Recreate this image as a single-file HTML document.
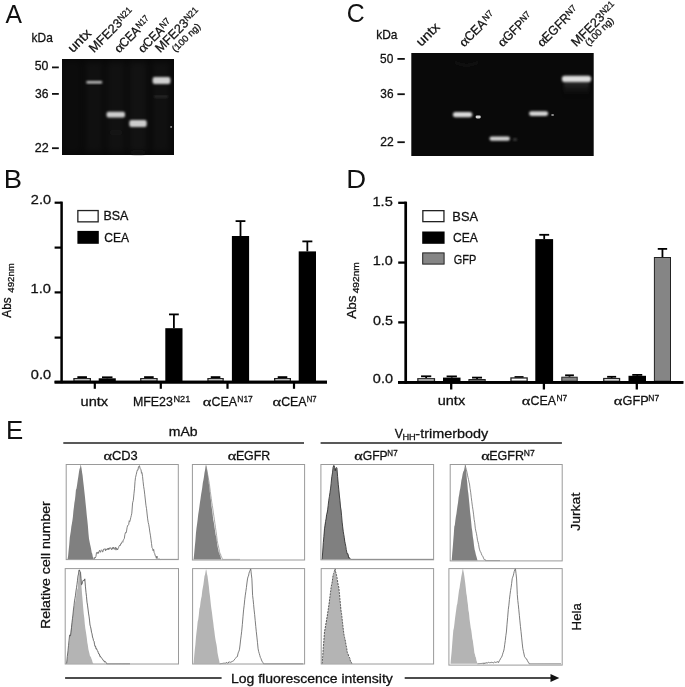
<!DOCTYPE html>
<html><head><meta charset="utf-8"><style>
html,body{margin:0;padding:0;background:#fff;overflow:hidden;width:685px;height:687px;}
svg{display:block;filter:blur(0.3px);}
text{stroke:#111;stroke-width:0.28px;}
text.n{stroke:none;}
</style></head><body>
<svg width="685" height="687" viewBox="0 0 685 687">
<defs>
<filter id="b1" x="-50%" y="-50%" width="200%" height="200%"><feGaussianBlur stdDeviation="0.9"/></filter>
<filter id="b2" x="-50%" y="-50%" width="200%" height="200%"><feGaussianBlur stdDeviation="1.6"/></filter>
<filter id="b3" x="-50%" y="-50%" width="200%" height="200%"><feGaussianBlur stdDeviation="3"/></filter>
<filter id="bt" x="-10%" y="-10%" width="120%" height="120%"><feGaussianBlur stdDeviation="0.25"/></filter>
<filter id="bt2" x="-50%" y="-50%" width="200%" height="200%"><feGaussianBlur stdDeviation="0.6"/></filter>
<linearGradient id="smear" x1="0" y1="0" x2="0" y2="1"><stop offset="0" stop-color="#5a5a5a"/><stop offset="1" stop-color="#111" stop-opacity="0"/></linearGradient>
</defs>
<rect width="685" height="687" fill="#fff"/>
<text transform="translate(5.45,22.60) scale(0.989,1)" font-family='"Liberation Sans", sans-serif' font-size="25.00" fill="#111" class="n">A</text>
<text transform="translate(346.74,21.50) scale(0.992,1)" font-family='"Liberation Sans", sans-serif' font-size="25.00" fill="#111" class="n">C</text>
<text transform="translate(3.85,188.00) scale(1.097,1)" font-family='"Liberation Sans", sans-serif' font-size="25.00" fill="#111" class="n">B</text>
<text transform="translate(346.34,188.00) scale(1.101,1)" font-family='"Liberation Sans", sans-serif' font-size="25.00" fill="#111" class="n">D</text>
<text transform="translate(6.08,438.50) scale(1.033,1)" font-family='"Liberation Sans", sans-serif' font-size="25.00" fill="#111" class="n">E</text>
<text transform="translate(31.60,41.60) scale(0.994,1)" font-family='"Liberation Sans", sans-serif' font-size="12.00" fill="#111" >kDa</text>
<rect x="62" y="59" width="112" height="96" fill="#080808"/>
<rect x="63" y="62" width="18" height="90" fill="#fff" opacity="0.015" filter="url(#b3)"/>
<rect x="85" y="62" width="18" height="90" fill="#fff" opacity="0.03" filter="url(#b3)"/>
<rect x="107" y="62" width="18" height="90" fill="#fff" opacity="0.035" filter="url(#b3)"/>
<rect x="129" y="62" width="18" height="90" fill="#fff" opacity="0.04" filter="url(#b3)"/>
<rect x="152" y="62" width="18" height="90" fill="#fff" opacity="0.03" filter="url(#b3)"/>
<rect x="86.3" y="80.9" width="15.9" height="2.6" rx="1.0" fill="#c8c8c8" opacity="1" filter="url(#b1)"/>
<rect x="106.6" y="111.8" width="18.4" height="5.8" rx="1.8" fill="#cdcdcd" opacity="1" filter="url(#b1)"/>
<rect x="129.3" y="120.1" width="17.4" height="6.8" rx="2.0" fill="#cdcdcd" opacity="1" filter="url(#b1)"/>
<rect x="152.6" y="76.9" width="17.8" height="7.0" rx="2.0" fill="#d0d0d0" opacity="1" filter="url(#b1)"/>
<rect x="154.0" y="95.8" width="14.0" height="1.6" rx="0.8" fill="#333333" opacity="1" filter="url(#b1)"/>
<rect x="110.0" y="131.5" width="12.0" height="2.0" rx="1.0" fill="#181818" opacity="1" filter="url(#b2)"/>
<rect x="132.0" y="151.0" width="12.0" height="3.0" rx="1.5" fill="#181818" opacity="1" filter="url(#b2)"/>
<rect x="170.4" y="126.0" width="1.4" height="1.8" rx="0.9" fill="#d0d0d0" opacity="1" filter="url(#bt2)"/>
<text transform="translate(34.71,69.90) scale(1.024,1)" font-family='"Liberation Sans", sans-serif' font-size="12.00" fill="#111" >50</text>
<text transform="translate(35.04,97.90) scale(1.011,1)" font-family='"Liberation Sans", sans-serif' font-size="12.00" fill="#111" >36</text>
<text transform="translate(34.77,151.90) scale(1.046,1)" font-family='"Liberation Sans", sans-serif' font-size="12.00" fill="#111" >22</text>
<rect x="52" y="66.5" width="6.8" height="1.8" fill="#111"/>
<rect x="52" y="93.0" width="6.8" height="1.8" fill="#111"/>
<rect x="52" y="147.3" width="6.8" height="1.8" fill="#111"/>
<text transform="translate(376.20,39.20) scale(0.994,1)" font-family='"Liberation Sans", sans-serif' font-size="12.00" fill="#111" >kDa</text>
<rect x="411.3" y="53" width="182.4" height="103" fill="#090909"/>
<path d="M455,62.3 Q466.5,68.5 478,62.3" fill="none" stroke="#1e1e1e" stroke-width="1.2" filter="url(#b1)"/>
<rect x="452.9" y="112.0" width="19.4" height="5.2" rx="2.6" fill="#dadada" opacity="1" filter="url(#b1)"/>
<rect x="475.6" y="115.6" width="5.2" height="2.8" rx="1.4" fill="#d4d4d4" opacity="1" filter="url(#bt2)"/>
<rect x="489.5" y="136.4" width="20.5" height="4.4" rx="2.2" fill="#d4d4d4" opacity="1" filter="url(#b1)"/>
<rect x="512.8" y="138.5" width="4.4" height="2.0" rx="1.0" fill="#4a4a4a" opacity="1" filter="url(#b1)"/>
<rect x="529.0" y="111.2" width="19.2" height="4.8" rx="2.4" fill="#d6d6d6" opacity="1" filter="url(#b1)"/>
<rect x="551.2" y="114.0" width="2.8" height="2.0" rx="1.0" fill="#8a8a8a" opacity="1" filter="url(#bt2)"/>
<rect x="564" y="80" width="25" height="17" fill="url(#smear)" opacity="0.55" filter="url(#b2)"/>
<rect x="561.8" y="75.8" width="29.4" height="6.2" rx="3.1" fill="#dcdcdc" opacity="1" filter="url(#b1)"/>
<text transform="translate(380.02,63.10) scale(0.992,1)" font-family='"Liberation Sans", sans-serif' font-size="12.00" fill="#111" >50</text>
<text transform="translate(380.35,98.40) scale(0.987,1)" font-family='"Liberation Sans", sans-serif' font-size="12.00" fill="#111" >36</text>
<text transform="translate(380.19,146.40) scale(1.005,1)" font-family='"Liberation Sans", sans-serif' font-size="12.00" fill="#111" >22</text>
<rect x="397.4" y="58.0" width="7.4" height="1.8" fill="#111"/>
<rect x="397.4" y="93.3" width="7.4" height="1.8" fill="#111"/>
<rect x="397.4" y="141.3" width="7.4" height="1.8" fill="#111"/>
<g transform="translate(73.60,52.60) rotate(-45)" fill="#111"><text transform="translate(-0.93,0.00) scale(1.086,1)" font-family='"Liberation Sans", sans-serif' font-size="13.20">untx</text></g>
<g transform="translate(94.80,52.40) rotate(-45)" fill="#111"><text transform="translate(-1.05,0.00) scale(0.996,1)" font-family='"Liberation Sans", sans-serif' font-size="12.80">MFE23</text><text transform="translate(40.18,-3.00) scale(0.978,1)" font-family='"Liberation Sans", sans-serif' font-size="9.00">N21</text></g>
<g transform="translate(119.30,53.20) rotate(-45)" fill="#111"><text transform="translate(-0.58,0.00) scale(1.119,1)" font-family='"Liberation Serif", serif' font-size="13.50">α</text><text transform="translate(7.01,0.00) scale(0.905,1)" font-family='"Liberation Sans", sans-serif' font-size="12.80">CEA</text><text transform="translate(31.15,-3.00) scale(0.881,1)" font-family='"Liberation Sans", sans-serif' font-size="9.00">N17</text></g>
<g transform="translate(143.10,53.20) rotate(-45)" fill="#111"><text transform="translate(-0.58,0.00) scale(1.119,1)" font-family='"Liberation Serif", serif' font-size="13.50">α</text><text transform="translate(7.01,0.00) scale(0.905,1)" font-family='"Liberation Sans", sans-serif' font-size="12.80">CEA</text><text transform="translate(31.12,-3.00) scale(0.921,1)" font-family='"Liberation Sans", sans-serif' font-size="9.00">N7</text></g>
<g transform="translate(161.00,52.40) rotate(-45)" fill="#111"><text transform="translate(-1.05,0.00) scale(0.996,1)" font-family='"Liberation Sans", sans-serif' font-size="12.80">MFE23</text><text transform="translate(40.18,-3.00) scale(0.978,1)" font-family='"Liberation Sans", sans-serif' font-size="9.00">N21</text></g>
<g transform="translate(176.00,52.20) rotate(-45)" fill="#111"><text transform="translate(-0.60,0.00) scale(1.057,1)" font-family='"Liberation Sans", sans-serif' font-size="9.20">(100 ng)</text></g>
<g transform="translate(422.00,46.40) rotate(-45)" fill="#111"><text transform="translate(-0.93,0.00) scale(1.086,1)" font-family='"Liberation Sans", sans-serif' font-size="13.20">untx</text></g>
<g transform="translate(464.50,47.20) rotate(-45)" fill="#111"><text transform="translate(-0.58,0.00) scale(1.119,1)" font-family='"Liberation Serif", serif' font-size="13.50">α</text><text transform="translate(7.18,0.00) scale(0.955,1)" font-family='"Liberation Sans", sans-serif' font-size="12.80">CEA</text><text transform="translate(32.98,-3.00) scale(0.970,1)" font-family='"Liberation Sans", sans-serif' font-size="9.00">N7</text></g>
<g transform="translate(503.00,47.20) rotate(-45)" fill="#111"><text transform="translate(-0.58,0.00) scale(1.119,1)" font-family='"Liberation Serif", serif' font-size="13.50">α</text><text transform="translate(7.21,0.00) scale(0.920,1)" font-family='"Liberation Sans", sans-serif' font-size="12.80">GFP</text><text transform="translate(31.48,-3.00) scale(0.970,1)" font-family='"Liberation Sans", sans-serif' font-size="9.00">N7</text></g>
<g transform="translate(542.50,47.20) rotate(-45)" fill="#111"><text transform="translate(-0.58,0.00) scale(1.119,1)" font-family='"Liberation Serif", serif' font-size="13.50">α</text><text transform="translate(6.81,0.00) scale(0.944,1)" font-family='"Liberation Sans", sans-serif' font-size="12.80">EGFR</text><text transform="translate(40.48,-3.00) scale(0.970,1)" font-family='"Liberation Sans", sans-serif' font-size="9.00">N7</text></g>
<g transform="translate(577.00,46.40) rotate(-45)" fill="#111"><text transform="translate(-1.05,0.00) scale(0.996,1)" font-family='"Liberation Sans", sans-serif' font-size="12.80">MFE23</text><text transform="translate(40.18,-3.00) scale(0.978,1)" font-family='"Liberation Sans", sans-serif' font-size="9.00">N21</text></g>
<g transform="translate(589.20,46.00) rotate(-45)" fill="#111"><text transform="translate(-0.60,0.00) scale(1.057,1)" font-family='"Liberation Sans", sans-serif' font-size="9.20">(100 ng)</text></g>
<line x1="61.60" y1="201.60" x2="61.60" y2="383.20" stroke="#000" stroke-width="2.5"/>
<line x1="54.60" y1="202.70" x2="61.60" y2="202.70" stroke="#000" stroke-width="2.2"/>
<line x1="54.60" y1="247.60" x2="61.60" y2="247.60" stroke="#000" stroke-width="2.2"/>
<line x1="54.60" y1="292.40" x2="61.60" y2="292.40" stroke="#000" stroke-width="2.2"/>
<line x1="54.60" y1="337.60" x2="61.60" y2="337.60" stroke="#000" stroke-width="2.2"/>
<line x1="54.60" y1="382.10" x2="327.00" y2="382.10" stroke="#000" stroke-width="2.6"/>
<line x1="94.80" y1="382.10" x2="94.80" y2="388.80" stroke="#000" stroke-width="2.2"/>
<line x1="160.80" y1="382.10" x2="160.80" y2="388.80" stroke="#000" stroke-width="2.2"/>
<line x1="227.50" y1="382.10" x2="227.50" y2="388.80" stroke="#000" stroke-width="2.2"/>
<line x1="294.00" y1="382.10" x2="294.00" y2="388.80" stroke="#000" stroke-width="2.2"/>
<text transform="translate(30.87,203.80) scale(1.118,1)" font-family='"Liberation Sans", sans-serif' font-size="13.00" fill="#111" >2.0</text>
<text transform="translate(30.58,292.50) scale(1.128,1)" font-family='"Liberation Sans", sans-serif' font-size="13.00" fill="#111" >1.0</text>
<text transform="translate(30.83,378.70) scale(1.120,1)" font-family='"Liberation Sans", sans-serif' font-size="13.00" fill="#111" >0.0</text>
<rect x="77.85" y="210.55" width="20.30" height="11.30" fill="#fff" stroke="#222" stroke-width="1.3"/>
<rect x="77.40" y="230.90" width="21.40" height="12.90" fill="#000"/>
<text transform="translate(103.48,219.50) scale(1.039,1)" font-family='"Liberation Sans", sans-serif' font-size="12.00" fill="#111" >BSA</text>
<text transform="translate(104.19,241.60) scale(1.007,1)" font-family='"Liberation Sans", sans-serif' font-size="12.00" fill="#111" >CEA</text>
<line x1="82.15" y1="377.10" x2="82.15" y2="378.00" stroke="#000" stroke-width="1.8"/>
<line x1="77.35" y1="377.10" x2="86.95" y2="377.10" stroke="#000" stroke-width="1.8"/>
<rect x="73.95" y="378.65" width="16.40" height="2.35" fill="#fff" stroke="#222" stroke-width="1.3"/>
<line x1="107.25" y1="377.30" x2="107.25" y2="378.30" stroke="#000" stroke-width="1.8"/>
<line x1="102.00" y1="377.30" x2="112.50" y2="377.30" stroke="#000" stroke-width="1.8"/>
<rect x="98.70" y="378.30" width="17.10" height="2.70" fill="#000"/>
<line x1="148.90" y1="377.10" x2="148.90" y2="378.00" stroke="#000" stroke-width="1.8"/>
<line x1="144.10" y1="377.10" x2="153.70" y2="377.10" stroke="#000" stroke-width="1.8"/>
<rect x="140.75" y="378.65" width="16.30" height="2.35" fill="#fff" stroke="#222" stroke-width="1.3"/>
<line x1="173.90" y1="314.40" x2="173.90" y2="328.20" stroke="#000" stroke-width="1.8"/>
<line x1="169.00" y1="314.40" x2="178.80" y2="314.40" stroke="#000" stroke-width="1.8"/>
<rect x="165.30" y="328.20" width="17.20" height="52.80" fill="#000"/>
<line x1="215.55" y1="377.10" x2="215.55" y2="378.00" stroke="#000" stroke-width="1.8"/>
<line x1="210.75" y1="377.10" x2="220.35" y2="377.10" stroke="#000" stroke-width="1.8"/>
<rect x="207.95" y="378.65" width="15.20" height="2.35" fill="#fff" stroke="#222" stroke-width="1.3"/>
<line x1="240.50" y1="221.10" x2="240.50" y2="236.00" stroke="#000" stroke-width="1.8"/>
<line x1="235.60" y1="221.10" x2="245.40" y2="221.10" stroke="#000" stroke-width="1.8"/>
<rect x="231.90" y="236.00" width="17.20" height="145.00" fill="#000"/>
<line x1="282.50" y1="377.10" x2="282.50" y2="378.00" stroke="#000" stroke-width="1.8"/>
<line x1="277.70" y1="377.10" x2="287.30" y2="377.10" stroke="#000" stroke-width="1.8"/>
<rect x="274.65" y="378.65" width="15.70" height="2.35" fill="#fff" stroke="#222" stroke-width="1.3"/>
<line x1="307.35" y1="241.40" x2="307.35" y2="251.40" stroke="#000" stroke-width="1.8"/>
<line x1="302.35" y1="241.40" x2="312.35" y2="241.40" stroke="#000" stroke-width="1.8"/>
<rect x="298.70" y="251.40" width="17.30" height="129.60" fill="#000"/>
<line x1="54.60" y1="382.10" x2="327.00" y2="382.10" stroke="#000" stroke-width="2.6"/>
<text transform="translate(80.55,405.80) scale(1.123,1)" font-family='"Liberation Sans", sans-serif' font-size="13.00" fill="#111" >untx</text>
<text transform="translate(132.88,405.80) scale(0.956,1)" font-family='"Liberation Sans", sans-serif' font-size="13.00" fill="#111" >MFE23</text>
<text transform="translate(173.44,401.90) scale(1.024,1)" font-family='"Liberation Sans", sans-serif' font-size="9.00" fill="#111" >N21</text>
<text transform="translate(202.78,405.80) scale(1.262,1)" font-family='"Liberation Serif", serif' font-size="13.00" fill="#111" >α</text>
<text transform="translate(211.57,405.80) scale(0.952,1)" font-family='"Liberation Sans", sans-serif' font-size="13.00" fill="#111" >CEA</text>
<text transform="translate(237.31,401.90) scale(0.940,1)" font-family='"Liberation Sans", sans-serif' font-size="9.00" fill="#111" >N17</text>
<text transform="translate(272.38,405.80) scale(1.262,1)" font-family='"Liberation Serif", serif' font-size="13.00" fill="#111" >α</text>
<text transform="translate(281.17,405.80) scale(0.952,1)" font-family='"Liberation Sans", sans-serif' font-size="13.00" fill="#111" >CEA</text>
<text transform="translate(306.77,401.90) scale(0.853,1)" font-family='"Liberation Sans", sans-serif' font-size="9.00" fill="#111" >N7</text>
<text transform="translate(11.00,317.70) rotate(-90) scale(0.908,1) translate(-0.03,0)" font-family='"Liberation Sans", sans-serif' font-size="13.00" fill="#111">Abs</text>
<text transform="translate(14.00,292.40) rotate(-90) scale(1.025,1) translate(-0.22,0)" font-family='"Liberation Sans", sans-serif' font-size="9.40" fill="#111">492nm</text>
<line x1="405.70" y1="201.60" x2="405.70" y2="383.70" stroke="#000" stroke-width="2.7"/>
<line x1="398.20" y1="202.80" x2="405.70" y2="202.80" stroke="#000" stroke-width="2.3"/>
<line x1="398.20" y1="262.60" x2="405.70" y2="262.60" stroke="#000" stroke-width="2.3"/>
<line x1="398.20" y1="322.40" x2="405.70" y2="322.40" stroke="#000" stroke-width="2.3"/>
<line x1="398.00" y1="382.40" x2="683.30" y2="382.40" stroke="#000" stroke-width="2.7"/>
<line x1="451.20" y1="382.40" x2="451.20" y2="389.50" stroke="#000" stroke-width="2.3"/>
<line x1="543.90" y1="382.40" x2="543.90" y2="389.50" stroke="#000" stroke-width="2.3"/>
<line x1="636.80" y1="382.40" x2="636.80" y2="389.50" stroke="#000" stroke-width="2.3"/>
<text transform="translate(372.49,205.90) scale(1.125,1)" font-family='"Liberation Sans", sans-serif' font-size="13.00" fill="#111" >1.5</text>
<text transform="translate(372.70,265.30) scale(1.110,1)" font-family='"Liberation Sans", sans-serif' font-size="13.00" fill="#111" >1.0</text>
<text transform="translate(372.94,325.10) scale(1.105,1)" font-family='"Liberation Sans", sans-serif' font-size="13.00" fill="#111" >0.5</text>
<text transform="translate(372.83,383.10) scale(1.114,1)" font-family='"Liberation Sans", sans-serif' font-size="13.00" fill="#111" >0.0</text>
<rect x="422.85" y="210.65" width="21.10" height="11.00" fill="#fff" stroke="#222" stroke-width="1.3"/>
<rect x="422.20" y="231.50" width="22.40" height="12.30" fill="#000"/>
<rect x="422.70" y="252.90" width="21.40" height="11.20" fill="#858585" stroke="#222" stroke-width="1.0"/>
<text transform="translate(452.35,221.00) scale(1.027,1)" font-family='"Liberation Sans", sans-serif' font-size="12.50" fill="#111" >BSA</text>
<text transform="translate(452.99,242.40) scale(0.966,1)" font-family='"Liberation Sans", sans-serif' font-size="12.50" fill="#111" >CEA</text>
<text transform="translate(453.85,263.80) scale(0.877,1)" font-family='"Liberation Sans", sans-serif' font-size="12.50" fill="#111" >GFP</text>
<line x1="426.15" y1="376.30" x2="426.15" y2="378.10" stroke="#000" stroke-width="1.8"/>
<line x1="421.05" y1="376.30" x2="431.25" y2="376.30" stroke="#000" stroke-width="1.8"/>
<rect x="417.85" y="378.75" width="16.60" height="2.45" fill="#fff" stroke="#222" stroke-width="1.3"/>
<line x1="451.75" y1="376.40" x2="451.75" y2="377.60" stroke="#000" stroke-width="1.8"/>
<line x1="446.60" y1="376.40" x2="456.90" y2="376.40" stroke="#000" stroke-width="1.8"/>
<rect x="443.00" y="377.60" width="17.50" height="3.60" fill="#000"/>
<line x1="477.05" y1="377.60" x2="477.05" y2="379.00" stroke="#000" stroke-width="1.8"/>
<line x1="472.05" y1="377.60" x2="482.05" y2="377.60" stroke="#000" stroke-width="1.8"/>
<rect x="468.90" y="379.50" width="16.30" height="1.70" fill="#858585" stroke="#222" stroke-width="1.0"/>
<line x1="519.05" y1="377.00" x2="519.05" y2="377.30" stroke="#000" stroke-width="1.8"/>
<line x1="514.55" y1="377.00" x2="523.55" y2="377.00" stroke="#000" stroke-width="1.8"/>
<rect x="510.95" y="377.95" width="16.20" height="3.25" fill="#fff" stroke="#222" stroke-width="1.3"/>
<line x1="544.20" y1="234.80" x2="544.20" y2="239.10" stroke="#000" stroke-width="1.8"/>
<line x1="539.25" y1="234.80" x2="549.15" y2="234.80" stroke="#000" stroke-width="1.8"/>
<rect x="535.30" y="239.10" width="17.80" height="142.10" fill="#000"/>
<line x1="569.50" y1="375.30" x2="569.50" y2="376.70" stroke="#000" stroke-width="1.8"/>
<line x1="565.10" y1="375.30" x2="573.90" y2="375.30" stroke="#000" stroke-width="1.8"/>
<rect x="561.80" y="377.20" width="15.40" height="4.00" fill="#858585" stroke="#222" stroke-width="1.0"/>
<line x1="611.65" y1="376.80" x2="611.65" y2="377.90" stroke="#000" stroke-width="1.8"/>
<line x1="607.15" y1="376.80" x2="616.15" y2="376.80" stroke="#000" stroke-width="1.8"/>
<rect x="603.75" y="378.55" width="15.80" height="2.65" fill="#fff" stroke="#222" stroke-width="1.3"/>
<line x1="637.25" y1="374.90" x2="637.25" y2="375.80" stroke="#000" stroke-width="1.8"/>
<line x1="632.25" y1="374.90" x2="642.25" y2="374.90" stroke="#000" stroke-width="1.8"/>
<rect x="628.50" y="375.80" width="17.50" height="5.40" fill="#000"/>
<line x1="662.45" y1="248.90" x2="662.45" y2="257.00" stroke="#000" stroke-width="1.8"/>
<line x1="657.75" y1="248.90" x2="667.15" y2="248.90" stroke="#000" stroke-width="1.8"/>
<rect x="654.40" y="257.50" width="16.10" height="123.70" fill="#858585" stroke="#222" stroke-width="1.0"/>
<line x1="398.00" y1="382.40" x2="683.30" y2="382.40" stroke="#000" stroke-width="2.7"/>
<text transform="translate(437.76,405.10) scale(1.115,1)" font-family='"Liberation Sans", sans-serif' font-size="13.00" fill="#111" >untx</text>
<text transform="translate(521.78,405.10) scale(1.262,1)" font-family='"Liberation Serif", serif' font-size="13.00" fill="#111" >α</text>
<text transform="translate(530.57,405.10) scale(0.952,1)" font-family='"Liberation Sans", sans-serif' font-size="13.00" fill="#111" >CEA</text>
<text transform="translate(556.51,401.20) scale(0.931,1)" font-family='"Liberation Sans", sans-serif' font-size="9.00" fill="#111" >N7</text>
<text transform="translate(613.78,405.10) scale(1.262,1)" font-family='"Liberation Serif", serif' font-size="13.00" fill="#111" >α</text>
<text transform="translate(622.56,405.10) scale(0.977,1)" font-family='"Liberation Sans", sans-serif' font-size="13.00" fill="#111" >GFP</text>
<text transform="translate(648.31,401.20) scale(0.940,1)" font-family='"Liberation Sans", sans-serif' font-size="9.00" fill="#111" >N7</text>
<text transform="translate(356.30,318.70) rotate(-90) scale(1.036,1) translate(-0.03,0)" font-family='"Liberation Sans", sans-serif' font-size="13.00" fill="#111">Abs</text>
<text transform="translate(359.20,293.10) rotate(-90) scale(1.086,1) translate(-0.22,0)" font-family='"Liberation Sans", sans-serif' font-size="9.40" fill="#111">492nm</text>
<text transform="translate(168.87,436.10) scale(1.168,1)" font-family='"Liberation Sans", sans-serif' font-size="12.00" fill="#111" >mAb</text>
<line x1="63.30" y1="442.90" x2="304.00" y2="442.90" stroke="#222" stroke-width="1.5"/>
<line x1="320.60" y1="442.90" x2="561.90" y2="442.90" stroke="#222" stroke-width="1.5"/>
<text transform="translate(394.85,437.50) scale(0.947,1)" font-family='"Liberation Sans", sans-serif' font-size="13.00" fill="#111" >V</text>
<text transform="translate(402.44,439.80) scale(1.084,1)" font-family='"Liberation Sans", sans-serif' font-size="8.50" fill="#111" >HH</text>
<text transform="translate(415.36,437.50) scale(1.110,1)" font-family='"Liberation Sans", sans-serif' font-size="13.00" fill="#111" >-trimerbody</text>
<text transform="translate(103.48,459.70) scale(1.295,1)" font-family='"Liberation Serif", serif' font-size="12.50" fill="#111" >α</text>
<text transform="translate(111.94,459.70) scale(1.033,1)" font-family='"Liberation Sans", sans-serif' font-size="12.50" fill="#111" >CD3</text>
<text transform="translate(227.78,459.70) scale(1.295,1)" font-family='"Liberation Serif", serif' font-size="12.50" fill="#111" >α</text>
<text transform="translate(235.88,459.70) scale(0.990,1)" font-family='"Liberation Sans", sans-serif' font-size="12.50" fill="#111" >EGFR</text>
<text transform="translate(354.18,459.70) scale(1.295,1)" font-family='"Liberation Serif", serif' font-size="12.50" fill="#111" >α</text>
<text transform="translate(362.69,459.70) scale(0.971,1)" font-family='"Liberation Sans", sans-serif' font-size="12.50" fill="#111" >GFP</text>
<text transform="translate(387.34,455.80) scale(0.892,1)" font-family='"Liberation Sans", sans-serif' font-size="9.00" fill="#111" >N7</text>
<text transform="translate(481.18,459.70) scale(1.295,1)" font-family='"Liberation Serif", serif' font-size="12.50" fill="#111" >α</text>
<text transform="translate(489.27,459.70) scale(1.002,1)" font-family='"Liberation Sans", sans-serif' font-size="12.50" fill="#111" >EGFR</text>
<text transform="translate(523.80,455.80) scale(0.950,1)" font-family='"Liberation Sans", sans-serif' font-size="9.00" fill="#111" >N7</text>
<text transform="translate(50.20,627.90) rotate(-90) scale(1.103,1) translate(-1.05,0)" font-family='"Liberation Sans", sans-serif' font-size="12.80" fill="#111">Relative cell number</text>
<text transform="translate(580.00,530.60) rotate(-90) scale(1.094,1) translate(-0.20,0)" font-family='"Liberation Sans", sans-serif' font-size="12.80" fill="#111">Jurkat</text>
<text transform="translate(581.30,629.30) rotate(-90) scale(1.033,1) translate(-1.05,0)" font-family='"Liberation Sans", sans-serif' font-size="12.80" fill="#111">Hela</text>
<line x1="65.10" y1="678.00" x2="221.60" y2="678.00" stroke="#111" stroke-width="1.6"/>
<line x1="404.70" y1="678.00" x2="552.00" y2="678.00" stroke="#111" stroke-width="1.6"/>
<path d="M550.5,674 L559.3,678 L550.5,682 Z" fill="#111"/>
<text transform="translate(230.95,682.60) scale(1.121,1)" font-family='"Liberation Sans", sans-serif' font-size="12.50" fill="#111" >Log fluorescence intensity</text>
<polygon points="67.50,559.40 68.10,555.90 68.67,550.03 69.23,544.73 69.80,537.62 70.32,534.22 70.84,530.89 71.36,526.51 71.88,523.73 72.40,520.49 72.90,516.69 73.40,510.99 73.90,507.30 74.40,502.67 74.90,500.10 75.40,495.68 75.90,490.09 76.50,488.54 77.10,484.87 77.70,480.56 78.30,476.85 78.90,472.55 79.50,468.93 80.10,467.66 80.70,464.23 81.50,468.32 82.05,472.23 82.60,475.57 83.20,481.35 83.80,486.14 84.40,491.85 84.98,496.96 85.56,503.05 86.14,508.56 86.72,514.74 87.30,520.11 87.87,525.55 88.43,532.96 89.00,538.79 89.54,541.51 90.08,544.28 90.62,546.47 91.16,549.35 91.70,552.54 92.25,553.65 92.80,556.79 93.35,557.58 93.90,559.40" fill="#808080"/>
<polyline points="93.90,559.40 94.41,559.40 94.93,557.00 95.44,557.69 95.96,556.33 96.47,552.76 96.99,552.36 97.50,553.43 98.00,551.96 98.50,553.35 99.00,551.45 99.50,550.33 100.00,551.86 100.50,552.16 101.00,550.48 101.50,549.79 102.00,550.38 102.50,552.13 103.00,551.36 103.50,549.29 104.00,549.53 104.50,548.95 105.00,548.68 105.50,550.77 106.00,548.79 106.50,549.81 107.00,549.35 107.50,548.45 108.00,549.95 108.50,548.03 109.00,549.44 109.50,547.74 110.00,548.53 110.50,547.78 111.00,547.83 111.50,549.81 112.00,549.18 112.50,547.56 113.00,549.18 113.50,547.03 114.00,547.74 114.50,549.27 115.00,548.79 115.50,547.32 116.00,550.15 116.50,547.97 117.00,548.26 117.50,549.96 118.00,548.79 118.53,547.76 119.05,546.17 119.58,545.29 120.11,545.84 120.64,543.89 121.16,544.04 121.69,542.42 122.22,541.74 122.75,542.33 123.27,539.98 123.80,539.32 124.35,538.39 124.90,534.52 125.45,532.62 126.00,533.08 126.55,530.99 127.10,527.47 127.65,525.48 128.20,525.32 128.71,524.46 129.23,520.78 129.74,521.58 130.26,519.92 130.77,517.62 131.29,515.62 131.80,513.21 132.60,502.82 133.30,500.49 134.00,493.22 134.50,488.81 135.00,481.67 135.50,477.57 136.20,474.69 136.90,471.58 137.42,469.91 137.94,470.22 138.46,466.95 138.98,466.11 139.50,465.78 140.00,468.26 140.50,469.14 141.00,469.74 141.50,473.25 142.00,472.71 142.55,476.52 143.10,481.66 143.65,486.56 144.20,489.78 144.78,494.79 145.36,500.03 145.94,505.30 146.52,508.63 147.10,513.99 147.65,518.85 148.20,522.39 148.75,524.70 149.30,528.07 149.85,532.13 150.40,535.17 150.95,539.23 151.50,543.55 152.04,547.68 152.57,548.50 153.11,550.74 153.65,549.36 154.19,552.66 154.73,553.65 155.26,555.84 155.80,556.06 156.35,558.45 156.90,556.03 157.45,557.79 158.00,558.71 158.55,559.40 159.10,559.40 159.65,559.05 160.20,559.40 160.71,559.40 161.22,559.40 161.73,559.40 162.23,559.40 162.74,559.40 163.25,559.40 163.76,559.40 164.27,559.40 164.78,559.40 165.29,559.40 165.79,559.40 166.30,559.40 166.81,559.40 167.32,559.40 167.83,559.40 168.34,559.40 168.85,559.40 169.35,559.40 169.86,559.40 170.37,559.40 170.88,559.40 171.39,559.40 171.90,559.40 172.41,559.40 172.91,559.40 173.42,559.40 173.93,559.40 174.44,559.40 174.95,559.40 175.46,559.40 175.97,559.40 176.47,559.40 176.98,559.40 177.49,559.40 178.00,559.40" fill="none" stroke="#6a6a6a" stroke-width="0.85"/>
<rect x="66.20" y="464.50" width="112.10" height="95.10" fill="none" stroke="#9a9a9a" stroke-width="1"/>
<polygon points="193.60,559.40 194.18,553.47 194.76,547.29 195.34,541.17 195.92,533.55 196.50,527.91 197.08,524.02 197.66,519.60 198.24,514.24 198.82,510.70 199.40,506.50 199.97,502.21 200.53,498.67 201.10,494.49 201.67,491.28 202.23,487.69 202.80,482.88 203.37,480.17 203.93,477.02 204.50,472.84 205.00,470.14 205.50,467.02 206.00,465.42 206.50,467.44 207.00,469.50 207.50,472.74 208.20,476.98 208.90,484.35 209.42,487.15 209.94,492.78 210.46,496.90 210.98,500.73 211.50,506.14 212.08,510.05 212.66,514.67 213.24,519.71 213.82,522.60 214.40,526.42 214.96,530.28 215.51,534.32 216.07,536.49 216.63,539.63 217.19,544.46 217.74,547.14 218.30,549.87 218.80,552.43 219.30,552.75 219.80,555.06 220.30,555.60 220.80,557.68 221.30,559.40" fill="#808080"/>
<polyline points="206.00,465.27 206.55,468.55 207.10,471.66 207.65,474.21 208.20,477.60 208.75,480.43 209.30,483.36 209.80,487.45 210.30,491.50 210.80,495.17 211.30,498.65 211.80,502.59 212.30,505.43 212.83,508.94 213.37,512.91 213.90,516.33 214.43,519.89 214.97,523.76 215.50,527.65 216.07,531.66 216.63,535.61 217.20,540.41 217.77,543.58 218.35,545.94 218.93,548.49 219.50,551.44 220.00,553.68 220.50,553.92 221.00,555.95 221.50,557.02 222.00,557.94 222.50,559.40 223.00,559.40 223.50,559.40 224.00,559.40 224.50,559.40 225.00,559.40 225.50,559.40 226.00,559.40 226.50,559.40 227.00,559.40 227.50,559.40 228.00,559.40 228.50,559.40 229.00,559.40 229.50,559.40 230.00,559.40 230.50,559.40 231.00,559.40 231.50,559.40 232.00,559.40 232.50,559.40 233.00,559.40 233.50,559.40 234.00,559.40 234.50,559.40 235.00,559.40 235.50,559.40 236.00,559.40 236.50,559.40 237.00,559.40 237.50,559.40 238.00,559.40 238.50,559.40 239.00,559.40 239.50,559.40 240.00,559.40" fill="none" stroke="#8a8a8a" stroke-width="0.7"/>
<rect x="192.40" y="464.50" width="112.20" height="95.50" fill="none" stroke="#9a9a9a" stroke-width="1"/>
<polygon points="322.10,559.40 322.70,552.07 323.30,542.39 323.90,534.67 324.50,527.40 325.03,523.34 325.56,522.00 326.09,517.58 326.61,514.25 327.14,510.93 327.67,509.10 328.20,505.58 328.78,501.61 329.36,497.28 329.94,493.24 330.52,489.19 331.10,484.21 331.80,477.24 332.50,471.95 333.10,467.74 333.70,463.82 334.20,466.54 334.70,468.77 335.20,469.29 335.77,468.77 336.33,468.19 336.90,468.23 337.60,475.84 338.30,484.05 338.85,489.84 339.40,494.52 339.95,500.87 340.50,506.59 341.05,510.24 341.60,517.55 342.15,522.54 342.70,526.69 343.21,530.61 343.73,534.20 344.24,538.04 344.76,540.09 345.27,543.72 345.79,547.62 346.30,550.65 346.85,552.48 347.40,552.92 347.95,554.83 348.50,555.35 349.05,557.34 349.60,558.40 350.15,558.86 350.70,559.40" fill="#808080"/>
<polyline points="322.10,559.40 322.70,552.03 323.30,542.65 323.90,536.59 324.50,528.85 325.03,525.72 325.56,521.37 326.09,518.97 326.61,514.54 327.14,513.08 327.67,509.81 328.20,505.28 328.78,500.15 329.36,496.77 329.94,492.70 330.52,488.93 331.10,483.76 331.80,476.58 332.50,472.87 333.10,467.23 333.70,465.74 334.20,465.68 334.70,467.84 335.20,470.81 335.77,468.26 336.33,467.55 336.90,467.85 337.60,476.43 338.30,484.75 338.85,489.81 339.40,496.00 339.95,500.20 340.50,506.96 341.05,509.99 341.60,515.82 342.15,522.12 342.70,526.91 343.21,531.36 343.73,534.32 344.24,537.21 344.76,541.32 345.27,543.74 345.79,546.26 346.30,549.67 346.85,552.47 347.40,554.12 347.95,553.68 348.50,556.98 349.05,558.16 349.60,557.77 350.15,558.75 350.70,559.40 351.22,559.40 351.73,559.40 352.25,559.40 352.77,559.40 353.28,559.40 353.80,559.40 354.32,559.40 354.83,559.40 355.35,559.40 355.87,559.40 356.38,559.40 356.90,559.40 357.42,559.40 357.93,559.40 358.45,559.40 358.97,559.40 359.48,559.40 360.00,559.40 360.50,559.40 361.00,559.40 361.50,559.40 362.00,559.40 362.50,559.40 363.00,559.40 363.50,559.40 364.00,559.40 364.50,559.40 365.00,559.40 365.50,559.40 366.00,559.40 366.50,559.40 367.00,559.40 367.50,559.40 368.00,559.40 368.50,559.40 369.00,559.40 369.50,559.40 370.00,559.40 370.50,559.40 371.00,559.40 371.50,559.40 372.00,559.40 372.50,559.40 373.00,559.40 373.50,559.40 374.00,559.40 374.50,559.40 375.00,559.40 375.50,559.40 376.00,559.40 376.50,559.40 377.00,559.40 377.50,559.40 378.00,559.40 378.50,559.40 379.00,559.40 379.50,559.40 380.00,559.40 380.50,559.40 381.00,559.40 381.50,559.40 382.00,559.40 382.50,559.40 383.00,559.40 383.50,559.40 384.00,559.40 384.50,559.40 385.00,559.40 385.50,559.40 386.00,559.40 386.50,559.40 387.00,559.40 387.50,559.40 388.00,559.40 388.50,559.40 389.00,559.40 389.50,559.40 390.00,559.40 390.50,559.40 391.00,559.40 391.50,559.40 392.00,559.40 392.50,559.40 393.00,559.40 393.50,559.40 394.00,559.40 394.50,559.40 395.00,559.40 395.50,559.40 396.00,559.40 396.50,559.40 397.00,559.40 397.50,559.40 398.00,559.40 398.50,559.40 399.00,559.40 399.50,559.40 400.00,559.40 400.50,559.40 401.00,559.40 401.50,559.40 402.00,559.40 402.50,559.40 403.00,559.40 403.50,559.40 404.00,559.40 404.50,559.40 405.00,559.40 405.50,559.40 406.00,559.40 406.50,559.40 407.00,559.40 407.50,559.40 408.00,559.40 408.50,559.40 409.00,559.40 409.50,559.40 410.00,559.40 410.50,559.40 411.00,559.40 411.50,559.40 412.00,559.40 412.50,559.40 413.00,559.40 413.50,559.40 414.00,559.40 414.50,559.40 415.00,559.40 415.50,559.40 416.00,559.40 416.50,559.40 417.00,559.40 417.50,559.40 418.00,559.40 418.50,559.40 419.00,559.40 419.50,559.40 420.00,559.40 420.50,559.40 421.00,559.40 421.50,559.40 422.00,559.40 422.50,559.40 423.00,559.40 423.50,559.40 424.00,559.40 424.50,559.40 425.00,559.40 425.50,559.40 426.00,559.40 426.50,559.40 427.00,559.40 427.50,559.40 428.00,559.40 428.50,559.40 429.00,559.40 429.50,559.40 430.00,559.40 430.50,559.40 431.00,559.40 431.50,559.40 432.00,559.40 432.50,559.40 433.00,559.40" fill="none" stroke="#333" stroke-width="0.9"/>
<rect x="320.90" y="464.50" width="112.70" height="95.30" fill="none" stroke="#9a9a9a" stroke-width="1"/>
<polygon points="451.70,560.60 452.22,553.32 452.74,547.44 453.26,540.75 453.78,534.35 454.30,526.46 454.83,524.90 455.37,520.27 455.90,516.38 456.43,513.63 456.97,509.47 457.50,505.68 458.05,502.47 458.60,497.44 459.15,494.84 459.70,490.91 460.25,488.46 460.80,484.73 461.40,480.34 462.00,477.84 462.60,474.13 463.20,471.85 463.70,470.99 464.20,469.48 464.70,466.85 465.20,464.80 465.75,467.92 466.30,472.26 466.80,478.84 467.30,482.98 467.85,489.89 468.40,493.70 468.95,499.55 469.50,505.10 470.05,511.56 470.60,516.21 471.15,521.73 471.70,527.76 472.28,531.13 472.86,537.01 473.44,540.17 474.02,545.52 474.60,549.45 475.18,551.46 475.76,554.31 476.34,556.22 476.92,558.21 477.50,560.60" fill="#808080"/>
<polyline points="465.20,465.08 465.77,467.69 466.35,469.62 466.93,472.14 467.50,475.18 468.00,477.39 468.50,479.44 469.00,482.09 469.50,483.96 470.08,488.68 470.66,492.19 471.24,497.28 471.82,501.75 472.40,506.26 472.98,509.80 473.56,514.16 474.14,519.37 474.72,522.75 475.30,528.20 475.85,531.17 476.40,533.24 476.95,536.51 477.50,540.32 478.05,542.16 478.60,544.44 479.15,547.97 479.70,549.89 480.26,551.71 480.82,552.08 481.38,553.76 481.94,555.46 482.50,555.82 483.00,556.76 483.50,558.12 484.00,559.13 484.50,559.89 485.00,559.38 485.50,560.60 486.00,560.60 486.50,560.60 487.00,560.60 487.50,560.60 488.00,560.60 488.50,560.60 489.00,560.60 489.50,560.60 490.00,560.60 490.50,560.60 491.00,560.60 491.50,560.60 492.00,560.60 492.50,560.60 493.00,560.60 493.50,560.60 494.00,560.60 494.50,560.60 495.00,560.60 495.50,560.60 496.00,560.60 496.50,560.60 497.00,560.60 497.50,560.60 498.00,560.60 498.50,560.60 499.00,560.60 499.50,560.60 500.00,560.60" fill="none" stroke="#777" stroke-width="0.85"/>
<rect x="450.20" y="464.50" width="112.00" height="96.40" fill="none" stroke="#9a9a9a" stroke-width="1"/>
<polygon points="66.60,663.80 67.15,659.36 67.70,655.47 68.25,650.46 68.80,646.41 69.38,640.96 69.96,636.34 70.54,632.05 71.12,627.54 71.70,624.31 72.23,620.60 72.77,617.08 73.30,612.52 73.83,608.97 74.37,605.38 74.90,603.15 75.44,600.56 75.98,597.50 76.52,592.75 77.06,589.76 77.60,588.79 78.20,581.32 78.80,575.58 79.70,569.22 80.35,572.23 81.00,575.03 81.60,587.65 82.15,595.32 82.70,601.33 83.22,608.29 83.75,614.06 84.28,618.05 84.80,624.10 85.30,628.36 85.80,631.26 86.30,634.43 86.80,638.00 87.30,642.39 87.80,644.93 88.33,649.12 88.85,651.16 89.38,653.20 89.90,655.79 90.43,656.54 90.96,657.30 91.49,658.99 92.01,660.04 92.54,662.35 93.07,663.21 93.60,663.80" fill="#b4b4b4"/>
<polyline points="66.60,663.80 67.30,656.42 68.00,650.82 68.53,645.29 69.07,640.16 69.60,635.03 70.50,635.81 71.00,632.13 71.50,627.43 72.00,622.39 72.50,618.28 73.00,614.03 73.50,609.06 74.00,605.45 74.50,600.89 75.00,598.18 75.50,595.19 76.00,591.02 76.50,587.71 77.00,584.28 77.50,580.25 78.00,576.00 78.50,573.96 79.00,569.93 79.50,570.08 80.00,571.52 80.50,572.14 81.00,578.57 81.50,584.78 82.00,584.33 82.50,581.95 83.00,580.40 83.60,580.46 84.20,580.83 84.80,578.85 85.40,586.13 86.00,592.48 86.50,596.71 87.00,602.20 87.50,605.13 88.00,609.06 88.50,613.05 89.00,616.13 89.50,620.07 90.00,625.01 90.50,626.66 91.00,628.94 91.50,632.21 92.00,633.78 92.50,636.99 93.00,638.28 93.50,640.62 94.00,641.15 94.50,644.20 95.00,646.52 95.55,646.22 96.10,649.11 96.65,648.69 97.20,650.44 97.75,650.96 98.30,652.74 98.85,654.10 99.40,654.12 99.91,656.60 100.43,656.27 100.94,657.20 101.46,658.05 101.97,658.30 102.49,658.86 103.00,660.31 103.53,660.66 104.06,660.65 104.59,662.06 105.11,661.76 105.64,661.74 106.17,662.75 106.70,663.80 107.21,663.80 107.71,663.80 108.22,663.80 108.73,663.80 109.23,663.80 109.74,663.80 110.25,663.80 110.75,663.80 111.26,663.80 111.77,663.80 112.27,663.80 112.78,663.80 113.28,663.80 113.79,663.80 114.30,663.80 114.80,663.80 115.31,663.80 115.82,663.80 116.32,663.80 116.83,663.80 117.34,663.80 117.84,663.80 118.35,663.80 118.86,663.80 119.36,663.80 119.87,663.80 120.38,663.80 120.88,663.80 121.39,663.80 121.90,663.80 122.40,663.80 122.91,663.80 123.42,663.80 123.92,663.80 124.43,663.80 124.93,663.80 125.44,663.80 125.95,663.80 126.45,663.80 126.96,663.80 127.47,663.80 127.97,663.80 128.48,663.80 128.99,663.80 129.49,663.80 130.00,663.80" fill="none" stroke="#4a4a4a" stroke-width="0.8"/>
<rect x="65.20" y="568.60" width="113.30" height="95.40" fill="none" stroke="#9a9a9a" stroke-width="1"/>
<polygon points="193.60,663.80 194.18,656.33 194.76,650.12 195.34,644.98 195.92,637.72 196.50,632.37 197.08,627.69 197.66,621.79 198.24,619.50 198.82,615.04 199.40,608.76 199.97,606.94 200.53,602.24 201.10,598.70 201.67,596.14 202.23,590.89 202.80,587.85 203.37,584.83 203.93,580.42 204.50,575.93 205.00,574.72 205.50,572.03 206.00,569.23 206.50,570.49 207.00,573.94 207.50,575.90 208.20,581.25 208.90,586.81 209.42,592.24 209.94,595.73 210.46,600.81 210.98,605.69 211.50,609.60 212.08,613.54 212.66,618.60 213.24,622.60 213.82,627.75 214.40,631.57 214.92,636.01 215.43,639.33 215.95,642.27 216.47,644.59 216.98,647.73 217.50,652.86 218.05,655.58 218.60,658.17 219.15,660.54 219.70,663.80" fill="#b4b4b4"/>
<polyline points="219.70,663.80 220.20,663.73 220.71,663.66 221.21,663.58 221.72,663.51 222.22,663.44 222.72,663.37 223.23,663.02 223.73,663.45 224.24,663.23 224.74,663.19 225.24,663.17 225.75,663.24 226.25,662.49 226.76,662.49 227.26,663.30 227.76,663.15 228.27,663.03 228.77,661.95 229.28,661.90 229.78,662.09 230.28,662.20 230.79,662.36 231.29,661.67 231.80,662.12 232.30,661.49 232.81,660.92 233.32,661.05 233.83,660.32 234.34,659.84 234.85,658.95 235.36,658.49 235.87,657.59 236.38,657.17 236.89,657.07 237.40,656.61 237.93,653.89 238.45,652.14 238.97,651.17 239.50,649.15 240.05,644.95 240.60,639.91 241.15,635.78 241.70,631.21 242.33,624.61 242.97,616.81 243.60,609.88 244.17,605.42 244.73,599.76 245.30,595.16 245.85,591.40 246.40,587.60 246.95,583.01 247.50,578.94 248.00,576.84 248.50,576.00 249.00,573.27 249.50,571.50 250.10,570.38 250.70,568.58 251.30,574.07 251.90,578.86 252.60,595.43 253.10,599.46 253.60,604.49 254.10,609.89 254.65,614.65 255.20,620.36 255.75,626.32 256.30,631.73 256.90,637.07 257.50,642.74 258.10,648.83 258.70,651.67 259.30,653.64 259.90,655.74 260.41,657.54 260.93,658.45 261.44,659.96 261.96,661.07 262.47,662.12 262.99,662.64 263.50,663.80 264.00,663.80 264.50,663.80 265.00,663.80 265.50,663.80 266.00,663.80 266.50,663.80 267.00,663.80 267.50,663.80 268.00,663.80 268.50,663.80 269.00,663.80 269.50,663.80 270.00,663.80 270.50,663.80 271.00,663.80 271.50,663.80 272.00,663.80 272.50,663.80 273.00,663.80 273.50,663.80 274.00,663.80 274.50,663.80 275.00,663.80 275.50,663.80 276.00,663.80 276.50,663.80 277.00,663.80 277.50,663.80 278.00,663.80 278.50,663.80 279.00,663.80 279.50,663.80 280.00,663.80 280.50,663.80 281.00,663.80 281.50,663.80 282.00,663.80 282.50,663.80 283.00,663.80 283.50,663.80 284.00,663.80 284.50,663.80 285.00,663.80 285.50,663.80 286.00,663.80 286.50,663.80 287.00,663.80 287.50,663.80 288.00,663.80 288.50,663.80 289.00,663.80 289.50,663.80 290.00,663.80 290.50,663.80 291.00,663.80 291.50,663.80 292.00,663.80 292.50,663.80 293.00,663.80 293.50,663.80 294.00,663.80 294.50,663.80 295.00,663.80 295.50,663.80 296.00,663.80 296.50,663.80 297.00,663.80 297.50,663.80 298.00,663.80 298.50,663.80 299.00,663.80 299.50,663.80 300.00,663.80 300.50,663.80 301.00,663.80 301.50,663.80 302.00,663.80 302.50,663.80 303.00,663.80" fill="none" stroke="#666" stroke-width="0.85"/>
<rect x="192.60" y="568.60" width="112.00" height="95.40" fill="none" stroke="#9a9a9a" stroke-width="1"/>
<polygon points="322.10,663.80 322.70,656.39 323.30,647.22 323.90,639.17 324.50,631.28 325.03,629.34 325.56,626.14 326.09,621.60 326.61,618.74 327.14,615.63 327.67,612.51 328.20,609.47 328.78,605.07 329.36,600.27 329.94,596.70 330.52,592.83 331.10,587.89 331.73,584.61 332.37,580.07 333.00,575.29 333.52,574.82 334.05,573.34 334.58,570.27 335.10,567.95 335.60,571.37 336.10,573.76 336.60,576.15 337.15,579.98 337.70,582.23 338.25,585.52 338.80,586.84 339.35,593.38 339.90,599.38 340.45,603.31 341.00,608.78 341.50,614.58 342.00,619.30 342.50,621.87 343.00,627.44 343.50,630.72 344.04,634.97 344.59,637.68 345.13,639.73 345.67,642.60 346.21,646.73 346.76,649.12 347.30,652.58 347.81,653.08 348.32,654.27 348.83,656.96 349.34,657.62 349.86,658.54 350.37,659.95 350.88,661.66 351.39,662.95 351.90,663.80" fill="#b4b4b4"/>
<polyline points="322.10,663.80 322.70,656.47 323.30,647.49 323.90,640.16 324.50,631.80 325.03,629.02 325.56,625.82 326.09,622.76 326.61,619.74 327.14,616.75 327.67,613.07 328.20,609.74 328.78,605.70 329.36,601.48 329.94,596.42 330.52,592.04 331.10,587.16 331.73,584.30 332.37,580.82 333.00,575.78 333.52,573.65 334.05,571.97 334.58,570.61 335.10,568.63 335.60,572.18 336.10,572.87 336.60,575.66 337.15,578.26 337.70,582.17 338.25,585.35 338.80,587.22 339.35,592.49 339.90,598.68 340.45,604.38 341.00,610.44 341.50,613.23 342.00,617.72 342.50,622.21 343.00,626.63 343.50,631.02 344.04,634.82 344.59,637.53 345.13,639.79 345.67,642.65 346.21,645.75 346.76,648.48 347.30,652.46 347.81,652.97 348.32,654.71 348.83,656.50 349.34,657.21 349.86,658.12 350.37,660.56 350.88,661.92 351.39,662.20 351.90,663.80" fill="none" stroke="#3a3a3a" stroke-width="0.8" stroke-dasharray="2,1"/>
<rect x="321.20" y="568.60" width="112.40" height="95.40" fill="none" stroke="#9a9a9a" stroke-width="1"/>
<polygon points="450.50,663.80 451.06,657.44 451.62,651.89 452.18,644.38 452.74,637.35 453.30,630.51 453.88,628.12 454.46,623.44 455.04,618.17 455.62,614.12 456.20,609.73 456.77,605.55 457.33,603.48 457.90,599.10 458.47,594.52 459.03,590.37 459.60,587.74 460.17,583.58 460.73,580.59 461.30,576.47 461.83,573.90 462.37,570.58 462.90,568.25 463.40,570.94 463.90,573.14 464.40,576.81 465.10,581.94 465.80,588.10 466.32,593.26 466.84,596.05 467.36,601.02 467.88,604.55 468.40,610.29 468.98,612.96 469.56,619.13 470.14,623.54 470.72,627.85 471.30,630.58 471.82,634.41 472.33,638.81 472.85,640.86 473.37,645.12 473.88,648.51 474.40,653.00 474.90,654.16 475.40,656.72 475.90,657.47 476.40,660.50 476.90,661.65 477.40,663.80" fill="#b4b4b4"/>
<polyline points="477.40,663.80 477.91,663.76 478.41,663.71 478.92,663.67 479.43,663.63 479.94,663.59 480.44,663.54 480.95,663.50 481.46,663.46 481.96,663.41 482.47,663.37 482.98,663.33 483.49,663.79 483.99,662.75 484.50,663.59 485.01,662.81 485.51,663.17 486.02,663.10 486.53,662.62 487.04,663.38 487.54,662.72 488.05,662.67 488.56,662.35 489.06,662.58 489.57,662.73 490.08,662.99 490.59,662.52 491.09,662.87 491.60,662.13 492.11,662.43 492.61,662.47 493.12,663.03 493.63,662.82 494.14,662.57 494.64,661.76 495.15,662.15 495.66,662.51 496.16,661.90 496.67,662.25 497.18,662.08 497.69,661.50 498.19,662.63 498.70,662.36 499.27,660.68 499.83,660.21 500.40,658.85 500.97,657.98 501.53,657.21 502.10,655.96 502.62,654.20 503.15,652.47 503.68,651.00 504.20,648.71 504.75,644.26 505.30,640.53 505.85,635.67 506.40,632.03 507.03,624.31 507.67,617.24 508.30,609.50 508.87,605.23 509.43,599.48 510.00,594.67 510.55,590.61 511.10,587.31 511.65,583.35 512.20,578.72 512.70,577.21 513.20,575.95 513.70,573.89 514.20,571.51 514.80,569.97 515.40,568.19 516.00,573.40 516.60,578.99 517.30,594.59 517.80,600.47 518.30,604.75 518.80,609.71 519.35,615.33 519.90,620.92 520.45,626.44 521.00,631.36 521.60,637.13 522.20,643.06 522.80,648.42 523.40,651.28 524.00,654.04 524.60,656.78 525.11,657.39 525.62,658.08 526.13,658.86 526.64,659.00 527.16,660.22 527.67,661.08 528.18,662.29 528.69,662.48 529.20,663.80 529.70,663.80 530.21,663.80 530.71,663.80 531.22,663.80 531.72,663.80 532.23,663.80 532.73,663.80 533.24,663.80 533.74,663.80 534.25,663.80 534.75,663.80 535.26,663.80 535.76,663.80 536.27,663.80 536.77,663.80 537.28,663.80 537.78,663.80 538.29,663.80 538.79,663.80 539.30,663.80 539.80,663.80 540.30,663.80 540.81,663.80 541.31,663.80 541.82,663.80 542.32,663.80 542.83,663.80 543.33,663.80 543.84,663.80 544.34,663.80 544.85,663.80 545.35,663.80 545.86,663.80 546.36,663.80 546.87,663.80 547.37,663.80 547.88,663.80 548.38,663.80 548.89,663.80 549.39,663.80 549.90,663.80 550.40,663.80 550.90,663.80 551.41,663.80 551.91,663.80 552.42,663.80 552.92,663.80 553.43,663.80 553.93,663.80 554.44,663.80 554.94,663.80 555.45,663.80 555.95,663.80 556.46,663.80 556.96,663.80 557.47,663.80 557.97,663.80 558.48,663.80 558.98,663.80 559.49,663.80 559.99,663.80 560.50,663.80 561.00,663.80" fill="none" stroke="#666" stroke-width="0.85"/>
<rect x="448.90" y="568.60" width="113.30" height="96.50" fill="none" stroke="#9a9a9a" stroke-width="1"/>
</svg>
</body></html>
